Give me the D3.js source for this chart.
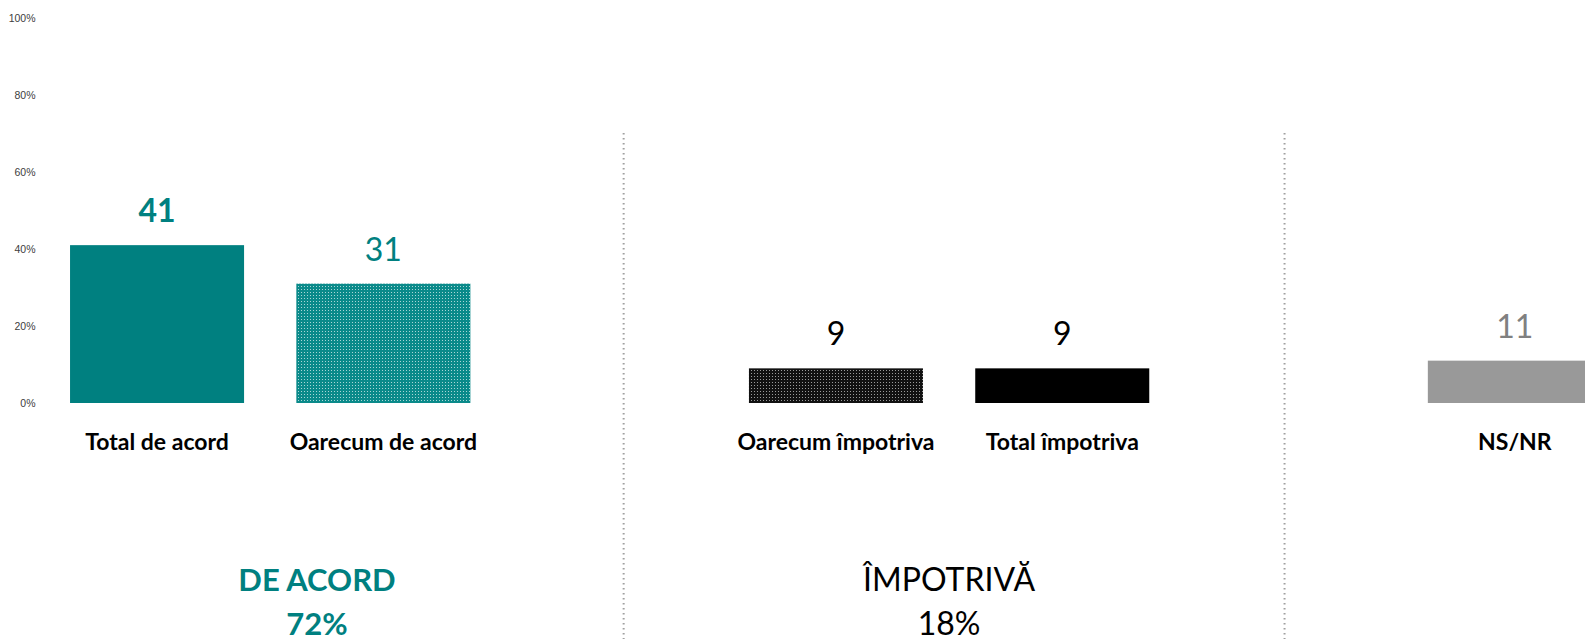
<!DOCTYPE html>
<html><head><meta charset="utf-8">
<script src="https://cdn.jsdelivr.net/npm/d3@7"></script>
<style>
html,body{margin:0;padding:0;background:#fff;overflow:hidden}
svg{display:block}
</style></head>
<body>
<svg id="chart" width="1585" height="639"></svg>
<script>
// ---- data ----
const categories = ["Total de acord", "Oarecum de acord", "", "Oarecum împotriva", "Total împotriva", " ", "NS/NR"];
const values = [41, 31, null, 9, 9, null, 11];
const yTicks = [0, 20, 40, 60, 80, 100];
const groupNames = ["DE ACORD", "ÎMPOTRIVĂ"];
const groupTotals = ["72%", "18%"];

// ---- styles ----
const TEAL = "#008080";
const fills = ["solid-teal", "pat-teal", null, "pat-black", "solid-black", null, "solid-grey"];
const labelColors = [TEAL, TEAL, null, "#000", "#000", null, "#808080"];
const labelWeights = ["bold", "normal", null, "normal", "normal", null, "normal"];
const FONT = "Lato, 'Open Sans', sans-serif";

const svg = d3.select("#chart");
const defs = svg.append("defs");
function pattern(id, bg, dot) {
  const p = defs.append("pattern").attr("id", id).attr("patternUnits", "userSpaceOnUse")
    .attr("width", 3).attr("height", 3);
  p.append("rect").attr("width", 3).attr("height", 3).attr("fill", bg);
  p.append("rect").attr("x", 1).attr("y", 1).attr("width", 1).attr("height", 1).attr("fill", dot);
}
pattern("pat-teal", "#0a8a8a", "#a9d6d6");
pattern("pat-black", "#111", "#9a9a9a");
const solid = {"solid-teal": TEAL, "solid-black": "#000", "solid-grey": "#999999"};
function fillOf(k) { return solid[k] || `url(#${k})`; }

const x = d3.scaleBand().domain(categories).range([43.9, 1628]).paddingInner(0.231).paddingOuter(0.1155);
const y = d3.scaleLinear().domain([0, 100]).range([403, 18]);

// y axis
const yAxis = svg.append("g").attr("transform", "translate(35.5,0)")
  .call(d3.axisLeft(y).tickValues(yTicks).tickSize(0).tickPadding(0).tickFormat(d => d + "%"));
yAxis.select(".domain").remove();
yAxis.selectAll("text").attr("font-family", "'Liberation Sans', Arial, sans-serif")
  .attr("font-size", 10.5).attr("fill", "#404040");

// dividers
const dividerX = [x(categories[2]) + x.bandwidth() / 2 + 14, x(categories[5]) + x.bandwidth() / 2 - 4];
svg.selectAll("line.div").data(dividerX).join("line").attr("class", "div")
  .attr("x1", d => d).attr("x2", d => d).attr("y1", 133).attr("y2", 639)
  .attr("stroke", "#a0a0a0").attr("stroke-width", 2).attr("stroke-dasharray", "1.5,3.5");

const data = categories.map((c, i) => ({c, v: values[i], i})).filter(d => d.v !== null);

svg.selectAll("rect.bar").data(data).join("rect").attr("class", "bar")
  .attr("x", d => x(d.c)).attr("width", x.bandwidth())
  .attr("y", d => y(d.v)).attr("height", d => y(0) - y(d.v))
  .attr("fill", d => fillOf(fills[d.i]));

svg.selectAll("text.val").data(data).join("text").attr("class", "val")
  .attr("x", d => x(d.c) + x.bandwidth() / 2).attr("y", d => y(d.v) - 23)
  .attr("text-anchor", "middle").attr("font-family", FONT).attr("font-size", 32)
  .attr("font-weight", d => labelWeights[d.i]).attr("fill", d => labelColors[d.i])
  .text(d => d.v);

svg.selectAll("text.cat").data(data).join("text").attr("class", "cat")
  .attr("x", d => x(d.c) + x.bandwidth() / 2).attr("y", 449.5)
  .attr("text-anchor", "middle").attr("font-family", FONT).attr("font-size", 23)
  .attr("font-weight", "bold").attr("fill", "#000").text(d => d.c);

// group labels
const groupX = [317, (x(categories[3]) + x(categories[4]) + x.bandwidth()) / 2];
const gColors = [TEAL, "#000"], gWeights = ["bold", "normal"];
const gSizes = [31, 32];
groupNames.forEach((g, i) => {
  svg.append("text").attr("x", groupX[i]).attr("y", 591).attr("text-anchor", "middle")
    .attr("font-family", FONT).attr("font-size", gSizes[i]).attr("font-weight", gWeights[i])
    .attr("fill", gColors[i]).text(g);
  svg.append("text").attr("x", groupX[i]).attr("y", 635).attr("text-anchor", "middle")
    .attr("font-family", FONT).attr("font-size", gSizes[i]).attr("font-weight", gWeights[i])
    .attr("fill", gColors[i]).text(groupTotals[i]);
});
</script>
</body></html>
